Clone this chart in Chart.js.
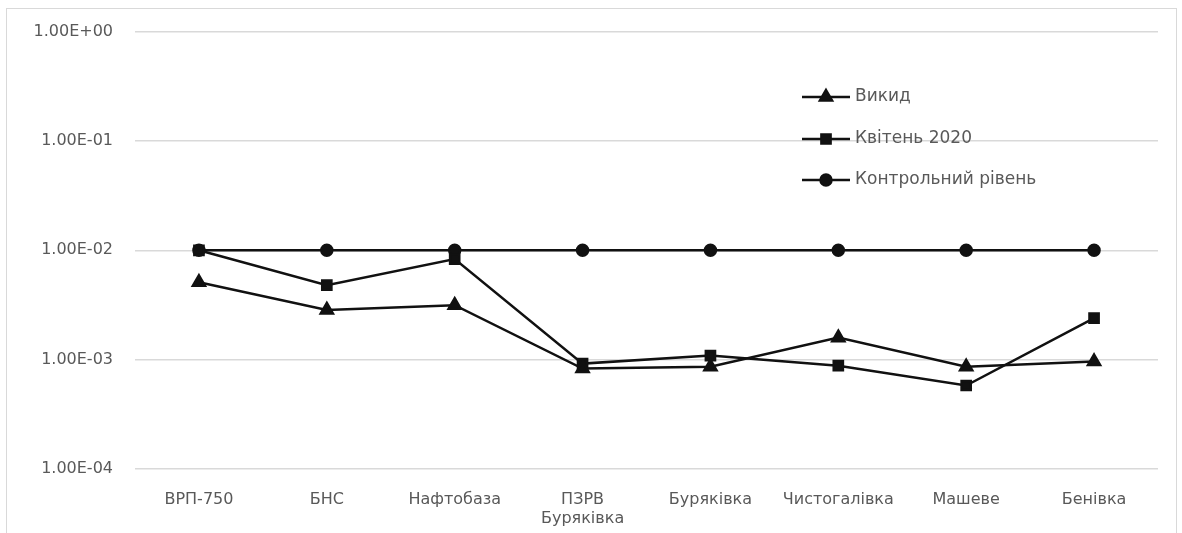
<!DOCTYPE html>
<html>
<head>
<meta charset="utf-8">
<script src="https://cdn.jsdelivr.net/npm/chart.js@4"></script>
<style>
  html, body { margin: 0; padding: 0; background: #fff; }
  #frame { position: absolute; left: 6px; top: 8px; width: 1169px; height: 540px;
           border: 1px solid #d9d9d9; border-bottom: none; }
  #wrap { position: absolute; left: 0; top: 0; width: 1182px; height: 533px; }
</style>
</head>
<body>
<div id="frame"></div>
<div id="wrap"><canvas id="chart"></canvas></div>
<script>
// categories and values
const stations = ['ВРП-750', 'БНС', 'Нафтобаза', ['ПЗРВ', 'Буряківка'], 'Буряківка', 'Чистогалівка', 'Машеве', 'Бенівка'];
const vykyd = [5.1e-3, 2.85e-3, 3.15e-3, 8.3e-4, 8.6e-4, 1.59e-3, 8.6e-4, 9.6e-4];
const april2020 = [1.0e-2, 4.8e-3, 8.3e-3, 9.2e-4, 1.09e-3, 8.8e-4, 5.8e-4, 2.4e-3];
const controlLevel = [1e-2, 1e-2, 1e-2, 1e-2, 1e-2, 1e-2, 1e-2, 1e-2];
const tickValues = [1e-4, 1e-3, 1e-2, 1e-1, 1];
const tickLabels = ['1.00E-04', '1.00E-03', '1.00E-02', '1.00E-01', '1.00E+00'];

const textColor = '#595959';
const fontFamily = '"DejaVu Sans", sans-serif';

// legend drawn inside the plot, like the original
const innerLegend = {
    id: 'innerLegend',
    afterDraw(chart) {
        const ctx = chart.ctx;
        const rows = [97, 139, 180];
        ctx.save();
        chart.data.datasets.forEach((ds, i) => {
            const y = rows[i];
            ctx.strokeStyle = ds.borderColor;
            ctx.lineWidth = ds.borderWidth;
            ctx.beginPath();
            ctx.moveTo(802, y);
            ctx.lineTo(850, y);
            ctx.stroke();
            Chart.helpers.drawPoint(ctx, {
                pointStyle: ds.pointStyle,
                radius: ds.pointRadius,
                borderWidth: 1
            }, 826, y);
            ctx.fillStyle = ds.pointBackgroundColor;
            ctx.fill();
            ctx.fillStyle = textColor;
            ctx.font = '17px ' + fontFamily;
            ctx.textBaseline = 'middle';
            ctx.textAlign = 'left';
            ctx.fillText(ds.label, 855, y);
        });
        ctx.restore();
    }
};

new Chart(document.getElementById('chart'), {
    type: 'line',
    data: {
        labels: stations,
        datasets: [
            {
                label: 'Викид',
                data: vykyd,
                borderColor: '#111',
                backgroundColor: '#111',
                pointBackgroundColor: '#111',
                pointBorderColor: '#111',
                borderWidth: 2.5,
                pointStyle: 'triangle',
                pointRadius: 7,
                tension: 0
            },
            {
                label: 'Квітень 2020',
                data: april2020,
                borderColor: '#111',
                backgroundColor: '#111',
                pointBackgroundColor: '#111',
                pointBorderColor: '#111',
                borderWidth: 2.5,
                pointStyle: 'rect',
                pointRadius: 6.5,
                tension: 0
            },
            {
                label: 'Контрольний рівень',
                data: controlLevel,
                borderColor: '#111',
                backgroundColor: '#111',
                pointBackgroundColor: '#111',
                pointBorderColor: '#111',
                borderWidth: 2.5,
                pointStyle: 'circle',
                pointRadius: 5.5,
                tension: 0
            }
        ]
    },
    options: {
        responsive: true,
        maintainAspectRatio: false,
        animation: false,
        layout: { padding: { left: 0, right: 24, top: 30, bottom: 0 } },
        scales: {
            y: {
                type: 'logarithmic',
                min: 1e-4,
                max: 1,
                afterBuildTicks: (scale) => {
                    scale.ticks = tickValues.map(v => ({ value: v }));
                },
                afterFit: (scale) => { scale.width = 135; },
                ticks: {
                    color: textColor,
                    font: { family: fontFamily, size: 16 },
                    padding: 22,
                    callback: (value) => tickLabels[tickValues.indexOf(value)] ?? ''
                },
                grid: { color: '#d9d9d9', lineWidth: 1.5, drawTicks: false },
                border: { display: false }
            },
            x: {
                offset: true,
                afterFit: (scale) => { scale.height = 64; },
                ticks: {
                    color: textColor,
                    font: { family: fontFamily, size: 16 },
                    padding: 13,
                    maxRotation: 0,
                    autoSkip: false
                },
                grid: { display: false, offset: true },
                border: { display: false }
            }
        },
        plugins: {
            legend: { display: false },
            tooltip: { enabled: false }
        }
    },
    plugins: [innerLegend]
});
</script>
</body>
</html>
